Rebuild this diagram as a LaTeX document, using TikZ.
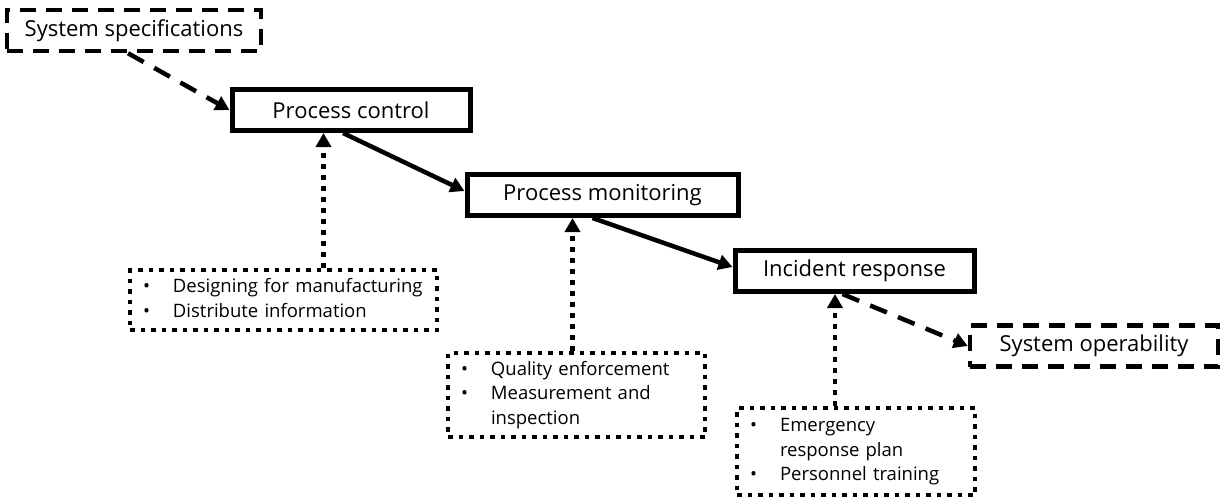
\documentclass[tikz,border=0pt]{standalone}
\usepackage{fontspec}
\setmainfont{Open Sans}
\usetikzlibrary{arrows.meta}
\tikzset{
  lbl/.style={font=\fontsize{22}{26}\selectfont, inner sep=0pt, anchor=center},
  stage/.style={lbl, draw, line width=5pt, minimum height=41pt},
  endpt/.style={lbl, draw, line width=4.5pt, dash pattern=on 16pt off 10pt, minimum height=41pt},
  notebox/.style={lbl, font=\fontsize{18.5}{24.5}\selectfont, draw, line width=4.5pt,
    dash pattern=on 4.5pt off 6pt, inner xsep=13pt, align=left},
  flow/.style={line width=4.5pt, -{Triangle[length=14pt,width=15pt]}},
  dashflow/.style={flow, dash pattern=on 18pt off 12pt},
  dotflow/.style={flow, dash pattern=on 4.5pt off 6.5pt},
}
\newcommand{\bulletrows}[1]{\begin{tabular}{@{}p{30pt}@{}l@{}}#1\end{tabular}}
\begin{document}
\begin{tikzpicture}[x=1pt, y=-1pt]
  \useasboundingbox (0,0) rectangle (1225,500);

  % main stages
  \node[endpt, minimum width=254pt] (spec) at (134,30.5) {System specifications};
  \node[stage, minimum width=238pt] (pc) at (351,110) {Process control};
  \node[stage, minimum width=271pt] (pm) at (602.5,195) {Process monitoring};
  \node[stage, minimum width=239pt] (ir) at (854.5,271) {Incident response};
  \node[endpt, minimum width=248pt] (so) at (1094,346) {System operability};

  % supporting activities
  \node[notebox, text width=281pt, minimum height=60pt] (dd) at (283.5,300)
    {\bulletrows{\textbullet & Designing for manufacturing\\ \textbullet & Distribute information}};
  \node[notebox, text width=231pt, minimum height=84pt] (qb) at (576.5,395)
    {\bulletrows{\textbullet & Quality enforcement\\ \textbullet & Measurement and\\ & inspection}};
  \node[notebox, text width=212pt, minimum height=87pt] (eb) at (856,451.5)
    {\bulletrows{\textbullet & Emergency\\ & response plan\\ \textbullet & Personnel training}};

  % flow between stages
  \draw[dashflow] ([xshift=-6pt]spec.south) -- (pc.west);
  \draw[flow] ([xshift=-8pt]pc.south) -- ([yshift=4pt]pm.west);
  \draw[flow] ([xshift=-10pt]pm.south) -- ([yshift=4pt]ir.west);
  \draw[dashflow] ([xshift=-12pt]ir.south) -- (so.west);

  % support links
  \draw[dotflow] ([xshift=40pt]dd.north) -- ([xshift=40pt]dd.north |- pc.south);
  \draw[dotflow] ([xshift=-4pt]qb.north) -- ([xshift=-4pt]qb.north |- pm.south);
  \draw[dotflow] ([xshift=-21pt]eb.north) -- ([xshift=-21pt]eb.north |- ir.south);
\end{tikzpicture}
\end{document}
